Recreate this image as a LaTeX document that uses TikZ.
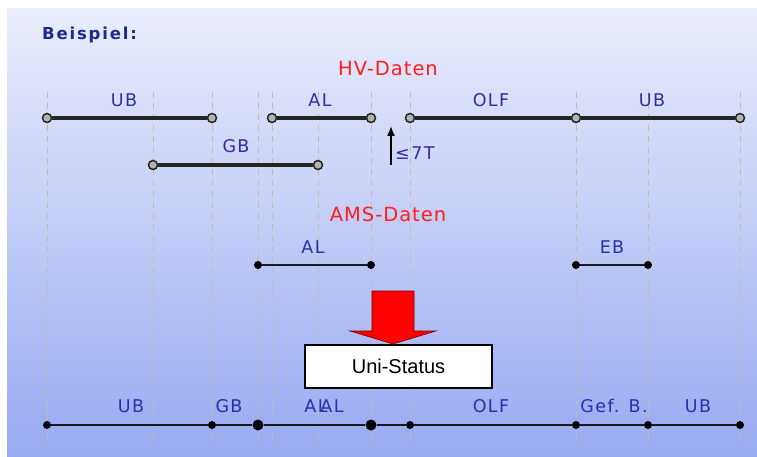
\documentclass[tikz,border=0pt]{standalone}
\usepackage{fontspec}
\setmainfont{DejaVu Sans}
\newfontfamily\lblfont[LetterSpace=8]{DejaVu Sans}
\newfontfamily\datfont[LetterSpace=5]{DejaVu Sans}
\newfontfamily\headfont[LetterSpace=11]{DejaVu Sans}
\newfontfamily\boxfont{Liberation Sans}
\usetikzlibrary{arrows.meta,positioning}
\definecolor{lblblue}{HTML}{2A30A8}
\definecolor{headblue}{HTML}{1C2A8C}
\definecolor{datred}{HTML}{FF1E1E}
\definecolor{guidegray}{HTML}{C5BCA5}
\definecolor{bgtop}{HTML}{EAEDFB}
\definecolor{bgbot}{HTML}{98A9F2}

\begin{document}
\begin{tikzpicture}[
  x=1pt,y=-1pt,
  >={Latex[length=10pt,width=8pt]},
  guide/.style={draw=guidegray,line width=1pt,dash pattern=on 6pt off 5pt},
  hvseg/.style={draw=black!85,line width=3.2pt},
  seg/.style={draw=black!90,line width=2.6pt},
  hvend/.style={circle,draw=black!85,fill=gray!60,line width=1.5pt,inner sep=0pt,minimum size=9pt},
  dot/.style={circle,fill=black,inner sep=0pt,minimum size=8pt},
  bigdot/.style={circle,fill=black,inner sep=0pt,minimum size=11pt},
  lbl/.style={text=lblblue,inner sep=0pt,font=\lblfont\fontsize{17.5}{20}\selectfont},
  dat/.style={text=datred,inner sep=0pt,font=\datfont\fontsize{19.5}{22}\selectfont}
]
  \useasboundingbox (0,0) rectangle (757,457);

  % Panel
  \fill[white] (0,0) rectangle (757,457);
  \shade[top color=bgtop,bottom color=bgbot] (7,9) rectangle (757,457);

  % Time grid
  \foreach \gx in {47,153,212,258,272,318,371,410,576,648,740}
    \draw[guide] (\gx,92) -- (\gx,445);

  \node[anchor=west,text=headblue,inner sep=0pt,
        font=\headfont\bfseries\fontsize{16.5}{19}\selectfont]
    (title) at (42,35) {Beispiel:};

  % HV data
  \node[dat] (hvtitle) at (388,69) {HV-Daten};

  \node[hvend] (hvA) at (47,118) {};
  \node[hvend] (hvB) at (212,118) {};
  \node[hvend] (hvC) at (272,118) {};
  \node[hvend] (hvD) at (371,118) {};
  \node[hvend] (hvE) at (410,118) {};
  \node[hvend] (hvF) at (576,118) {};
  \node[hvend] (hvG) at (740,118) {};
  \draw[hvseg] (hvA) -- (hvB);
  \draw[hvseg] (hvC) -- (hvD);
  \draw[hvseg] (hvE) -- (hvF);
  \draw[hvseg] (hvF) -- (hvG);
  \node[lbl] (hvub) at (124,100) {UB};
  \node[lbl] (hval) at (320,100) {AL};
  \node[lbl] (hvolf) at (491,100) {OLF};
  \node[lbl] (hvub2) at (652,100) {UB};

  \node[hvend] (gbA) at (153,165) {};
  \node[hvend] (gbB) at (318,165) {};
  \draw[hvseg] (gbA) -- (gbB);
  \node[lbl] (gb) at (236,146) {GB};

  % Gap of at most 7 days
  \coordinate (gapS) at (391,165);
  \coordinate (gapE) at (391,126);
  \draw[->,line width=1.6pt] (gapS) -- (gapE);
  \node[lbl,anchor=west] (gap) at (395,153) {≤7T};

  % AMS data
  \node[dat] (amstitle) at (388,214) {AMS-Daten};

  \node[dot] (amA) at (258,265) {};
  \node[dot] (amB) at (371,265) {};
  \node[dot] (amC) at (576,265) {};
  \node[dot] (amD) at (648,265) {};
  \draw[seg] (amA) -- (amB);
  \draw[seg] (amC) -- (amD);
  \node[lbl] (amal) at (313,247) {AL};
  \node[lbl] (ameb) at (612,247) {EB};

  % Merge
  \fill[red,draw=red!45!black,line width=0.6pt]
    (372,291) -- (414,291) -- (414,331) -- (436,331) -- (393,344)
    -- (350,331) -- (372,331) -- cycle;
  \node[draw=black,line width=1.8pt,fill=white,minimum width=187pt,
        minimum height=43pt,inner sep=0pt,
        font=\boxfont\fontsize{20}{24}\selectfont]
    (status) at (398.5,366.5) {Uni-Status};

  % Resulting status
  \node[dot] (stA) at (47,425) {};
  \node[dot] (stB) at (212,425) {};
  \node[bigdot] (stC) at (258,425) {};
  \node[bigdot] (stD) at (371,425) {};
  \node[dot] (stE) at (410,425) {};
  \node[dot] (stF) at (576,425) {};
  \node[dot] (stG) at (648,425) {};
  \node[dot] (stH) at (740,425) {};
  \draw[seg] (stA) -- (stB);
  \draw[seg] (stB) -- (stC);
  \draw[seg] (stC) -- (stD);
  \draw[seg] (stD) -- (stE);
  \draw[seg] (stE) -- (stF);
  \draw[seg] (stF) -- (stG);
  \draw[seg] (stG) -- (stH);
  \node[lbl] (stub) at (131,406) {UB};
  \node[lbl] (stgb) at (229,406) {GB};
  \node[lbl] (stal) at (316,406) {AL};
  \node[lbl] (stal2) at (332,406) {AL};
  \node[lbl] (stolf) at (491,406) {OLF};
  \node[lbl] (stgef) at (614,406) {Gef. B.};
  \node[lbl] (stub2) at (698,406) {UB};
\end{tikzpicture}
\end{document}
